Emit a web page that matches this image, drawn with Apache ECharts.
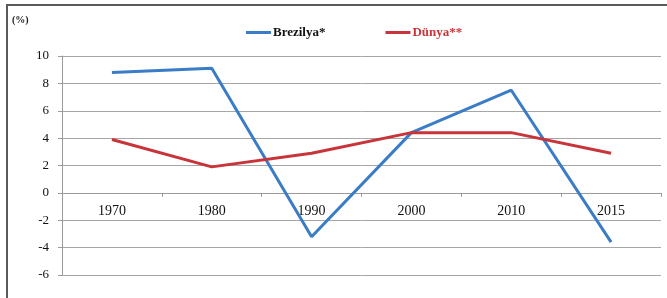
<!DOCTYPE html>
<html>
<head>
<meta charset="utf-8">
<script src="https://cdn.jsdelivr.net/npm/echarts@6/dist/echarts.min.js"></script>
<style>
html,body{margin:0;padding:0;background:#fff;}
#main{width:667px;height:298px;}
</style>
</head>
<body>
<div id="main"></div>
<script>
// data
var years = ["1970", "1980", "1990", "2000", "2010", "2015"];
var brezilya = [8.8, 9.1, -3.2, 4.4, 7.5, -3.6];
var dunya = [3.9, 1.9, 2.9, 4.4, 4.4, 2.9];
var seriesNames = ["Brezilya*", "Dünya**"];
var yMin = -6, yMax = 10;

var serif = "'Liberation Serif', 'DejaVu Serif', serif";

var gridTop = 56, gridBottom = 23, chartH = 298;
// x axis sits on the zero line, labels go with it
var zeroOffset = -(chartH - gridTop - gridBottom) * (0 - yMin) / (yMax - yMin);

var myChart = echarts.init(document.getElementById("main"));

option = {
    backgroundColor : "#fff",
    animation : false,

    graphic : [
        {
            type : "rect",
            shape : {x : 7, y : 5, width : 700, height : 400},
            style : {fill : "none", stroke : "#5a5a5a", lineWidth : 2}
        },
        {
            type : "text",
            left : 12,
            top : 15,
            style : {text : "(%)", font : "bold 10px " + serif, fill : "#222"}
        }
    ],

    legend : {
        top : 21,
        left : 241,
        itemWidth : 25,
        itemHeight : 3,
        itemGap : 60,
        icon : "rect",
        data : [
            {name : seriesNames[0], textStyle : {color : "#111"}},
            {name : seriesNames[1], textStyle : {color : "#c8343a"}}
        ],
        textStyle : {fontFamily : serif, fontSize : 13, fontWeight : "bold", padding : [0, 0, 0, -3]}
    },

    grid : {left : 62, right : 6, top : gridTop, bottom : gridBottom},

    xAxis : {
        type : "category",
        data : years,
        boundaryGap : true,
        offset : zeroOffset,
        axisLine : {onZero : false, lineStyle : {color : "#9a9a9a", width : 1}},
        axisTick : {show : true, length : 4, lineStyle : {color : "#9a9a9a"}},
        axisLabel : {color : "#111", fontFamily : serif, fontSize : 14, margin : 11},
        splitLine : {show : false}
    },

    yAxis : {
        type : "value",
        min : yMin,
        max : yMax,
        interval : 2,
        axisLine : {show : true, lineStyle : {color : "#9a9a9a"}},
        axisTick : {show : true, length : 4, lineStyle : {color : "#9a9a9a"}},
        axisLabel : {color : "#111", fontFamily : serif, fontSize : 13, margin : 13},
        splitLine : {show : true, lineStyle : {color : "#a6a6a6", width : 1}}
    },

    series : [
        {
            name : seriesNames[0],
            type : "line",
            data : brezilya,
            symbol : "none",
            lineStyle : {color : "#3a7cc6", width : 3},
            itemStyle : {color : "#3a7cc6"}
        },
        {
            name : seriesNames[1],
            type : "line",
            data : dunya,
            symbol : "none",
            lineStyle : {color : "#c8343a", width : 3},
            itemStyle : {color : "#c8343a"}
        }
    ]
};

myChart.setOption(option);
</script>
</body>
</html>
